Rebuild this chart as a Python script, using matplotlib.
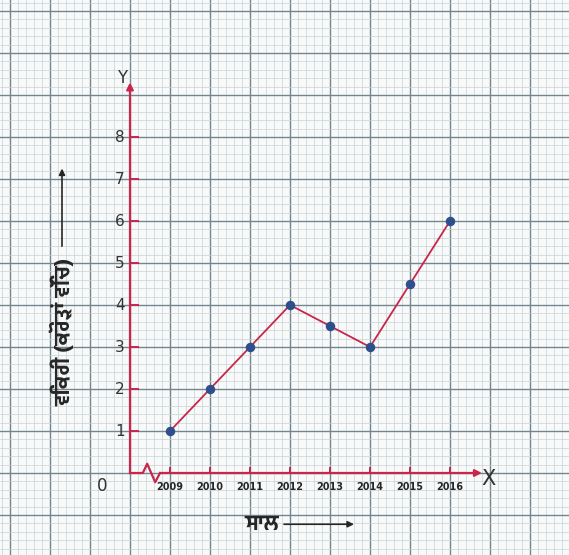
import glob
import numpy as np
import matplotlib
matplotlib.use("Agg")
import matplotlib.pyplot as plt
from matplotlib.font_manager import FontProperties

years = [2009, 2010, 2011, 2012, 2013, 2014, 2015, 2016]
year_labels = ['2009', '2010', '2011', '2012', '2013', '2014', '2015', '2016']
sales = [1, 2, 3, 4, 3.5, 3, 4.5, 6]
y_ticks = [1, 2, 3, 4, 5, 6, 7, 8]

x_label = 'ਸਾਲ'
y_label = 'ਵਿਕਰੀ (ਕਰੋੜਾਂ ਵਿੱਚ)'

RED = '#c8264b'
DOT = '#2e4f8c'
INK = '#262626'


def gurmukhi_font(size):
    for pat in ['HindJalandhar-Bold.ttf', 'MuktaMahee-Bold.ttf', 'FreeSansBold.ttf']:
        found = glob.glob('/usr/share/fonts/**/' + pat, recursive=True)
        if found:
            return FontProperties(fname=found[0], size=size)
    return FontProperties(family='DejaVu Sans', size=size, weight='bold')


# pixel layout of the sheet: origin (2008, 0) at (130, 473), 40 px per year, 42 px per unit
W, H = 569, 555
X0, Y0 = 130, 473
PX, PY = 40.0, 42.0
xmin = 2008 - X0 / PX
xmax = 2008 + (W - X0) / PX
ymin = -(H - Y0) / PY
ymax = Y0 / PY

fig = plt.figure(figsize=(W / 100, H / 100), dpi=100)
fig.patch.set_facecolor('#f8fafa')
ax = fig.add_axes([0, 0, 1, 1])
ax.set_xlim(xmin, xmax)
ax.set_ylim(ymin, ymax)
ax.axis('off')

# graph paper
for v in np.arange(np.floor(xmin), xmax, 0.2):
    major = abs(v - round(v)) < 1e-6
    ax.axvline(v, color='#73868f' if major else '#c7d1d5',
               lw=1.0 if major else 0.5, zorder=0)
for v in np.arange(np.floor(ymin), ymax, 0.2):
    major = abs(v - round(v)) < 1e-6
    ax.axhline(v, color='#73868f' if major else '#c7d1d5',
               lw=1.0 if major else 0.5, zorder=0)

# axes with a break mark near the origin
ax.annotate('', xy=(2016.8, 0), xytext=(2008.75, 0),
            arrowprops=dict(arrowstyle='-|>', color=RED, lw=1.6,
                            mutation_scale=10, shrinkA=0, shrinkB=0))
ax.annotate('', xy=(2008, 9.3), xytext=(2008, 0),
            arrowprops=dict(arrowstyle='-|>', color=RED, lw=1.6,
                            mutation_scale=10, shrinkA=0, shrinkB=0))
ax.plot([2008, 2008.32, 2008.43, 2008.63, 2008.75],
        [0, 0, 0.22, -0.22, 0], color=RED, lw=1.6, zorder=3)

# tick marks
for yr in years:
    ax.plot([yr, yr], [0, 0.12], color=RED, lw=1.4, zorder=3)
for t in y_ticks:
    ax.plot([2008, 2008.2], [t, t], color=RED, lw=1.4, zorder=3)

# tick labels
for yr, lab in zip(years, year_labels):
    ax.text(yr, -0.33, lab, ha='center', va='center', fontsize=7,
            fontweight='bold', color=INK)
for t in y_ticks:
    ax.text(2007.75, t, str(t), ha='center', va='center', fontsize=11,
            color='#333333')
ax.text(2007.3, -0.3, '0', ha='center', va='center', fontsize=12, color='#333333')
ax.text(2007.8, 9.4, 'Y', ha='center', va='center', fontsize=12, color='#333333')
ax.text(2016.95, -0.15, 'X', ha='center', va='center', fontsize=15, color='#333333')

# data
ax.plot(years, sales, color=RED, lw=1.3, zorder=4)
ax.scatter(years, sales, s=34, color=DOT, zorder=5)

# axis titles with arrows
ax.text(2006.3, 3.35, y_label, rotation=90, ha='center', va='center',
        fontproperties=gurmukhi_font(15), color=INK)
ax.annotate('', xy=(2006.3, 7.25), xytext=(2006.3, 5.4),
            arrowprops=dict(arrowstyle='-|>', color=INK, lw=1.2,
                            mutation_scale=9, shrinkA=0, shrinkB=0))
ax.text(2011.3, -1.22, x_label, ha='center', va='center',
        fontproperties=gurmukhi_font(15), color=INK)
ax.annotate('', xy=(2013.6, -1.22), xytext=(2011.85, -1.22),
            arrowprops=dict(arrowstyle='-|>', color=INK, lw=1.2,
                            mutation_scale=9, shrinkA=0, shrinkB=0))

fig.savefig('out.png', dpi=100)
